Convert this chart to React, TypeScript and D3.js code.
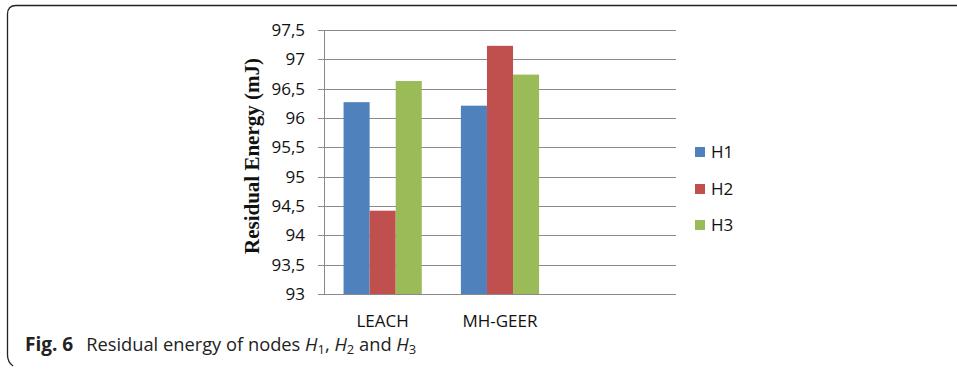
import React from "react";
import * as d3 from "d3";

// Residual energy (mJ) per protocol and node
const categories = ["LEACH", "MH-GEER", ""];
const seriesNames = ["H1", "H2", "H3"];
const h1Values = [96.27, 96.21];
const h2Values = [94.42, 97.23];
const h3Values = [96.63, 96.74];
const yTicks = [93, 93.5, 94, 94.5, 95, 95.5, 96, 96.5, 97, 97.5];

const seriesValues = [h1Values, h2Values, h3Values];
const colors = ["#4F81BD", "#C0504D", "#9BBB59"];

const W = 957;
const H = 371;
const plot = { left: 324, right: 676, top: 30, bottom: 294 };
const sans = "'Open Sans', 'Noto Sans', sans-serif";

const fmt = (v: number) => String(v).replace(".", ",");

export default function App() {
  const x = d3
    .scaleBand<string>()
    .domain(categories)
    .range([plot.left, plot.right])
    .paddingInner(1 / 3)
    .paddingOuter(1 / 6);
  const xs = d3
    .scaleBand<string>()
    .domain(seriesNames)
    .range([0, x.bandwidth()]);
  const y = d3.scaleLinear().domain([93, 97.5]).range([plot.bottom, plot.top]);

  const bars: { key: string; x: number; y: number; w: number; h: number; c: string }[] = [];
  seriesNames.forEach((s, si) => {
    seriesValues[si].forEach((v, ci) => {
      const bx = (x(categories[ci]) ?? 0) + (xs(s) ?? 0);
      bars.push({
        key: s + "-" + ci,
        x: bx,
        y: y(v),
        w: xs.bandwidth(),
        h: y(93) - y(v),
        c: colors[si],
      });
    });
  });

  const legendY = [152, 189, 225];
  const titleY = 156;

  return (
    <>
      <style>{`body{margin:0;background:#fff}`}</style>
      <svg width={W} height={H} style={{ display: "block" }}>
        <rect width={W} height={H} fill="#fff" />
        {/* frame */}
        <path
          d="M957,5.5 L16,5.5 Q7.5,5.5 7.5,14 L7.5,355 Q7.5,362 13,366"
          fill="none"
          stroke="#222"
          strokeWidth={1.3}
        />
        {/* gridlines */}
        {yTicks.map((t) => (
          <line
            key={"g" + t}
            x1={plot.left - 6}
            x2={plot.right}
            y1={Math.round(y(t)) + 0.5}
            y2={Math.round(y(t)) + 0.5}
            stroke="#8a8a8a"
            strokeWidth={1}
          />
        ))}
        {/* bars */}
        {bars.map((b) => (
          <rect key={b.key} x={b.x} y={b.y} width={b.w} height={b.h} fill={b.c} />
        ))}
        {/* value axis */}
        <line
          x1={plot.left + 0.5}
          x2={plot.left + 0.5}
          y1={plot.top}
          y2={plot.bottom + 0.5}
          stroke="#8a8a8a"
          strokeWidth={1}
        />
        {yTicks.map((t) => (
          <text
            key={"t" + t}
            x={305}
            y={y(t)}
            dy="0.36em"
            textAnchor="end"
            fontFamily={sans}
            fontSize={17}
            fill="#111"
          >
            {fmt(t)}
          </text>
        ))}
        {/* category labels */}
        {categories.map((c) =>
          c ? (
            <text
              key={"c" + c}
              x={(x(c) ?? 0) + x.bandwidth() / 2}
              y={326.5}
              textAnchor="middle"
              fontFamily={sans}
              fontSize={17}
              fill="#111"
            >
              {c}
            </text>
          ) : null
        )}
        {/* axis title */}
        <text
          transform={`translate(259,${titleY}) rotate(-90)`}
          textAnchor="middle"
          fontFamily="'Liberation Serif', 'DejaVu Serif', serif"
          fontWeight="bold"
          fontSize={21}
          fill="#111"
        >
          Residual Energy (mJ)
        </text>
        {/* legend */}
        {seriesNames.map((s, i) => (
          <g key={"l" + s}>
            <rect x={695} y={legendY[i] - 5} width={10} height={10} fill={colors[i]} />
            <text
              x={711}
              y={legendY[i]}
              dy="0.36em"
              fontFamily={sans}
              fontSize={17}
              fill="#111"
            >
              {s}
            </text>
          </g>
        ))}
        {/* caption */}
        <text x={25} y={351} fontFamily={sans} fontSize={18.3} fill="#222">
          <tspan fontWeight="bold" fontSize={19}>Fig. 6</tspan>
          <tspan dx={13}>Residual energy of nodes </tspan>
          <tspan fontStyle="italic">H</tspan>
          <tspan fontSize={13} dy={3}>1</tspan>
          <tspan dy={-3}>, </tspan>
          <tspan fontStyle="italic">H</tspan>
          <tspan fontSize={13} dy={3}>2</tspan>
          <tspan dy={-3}> and </tspan>
          <tspan fontStyle="italic">H</tspan>
          <tspan fontSize={13} dy={3}>3</tspan>
        </text>
      </svg>
    </>
  );
}
